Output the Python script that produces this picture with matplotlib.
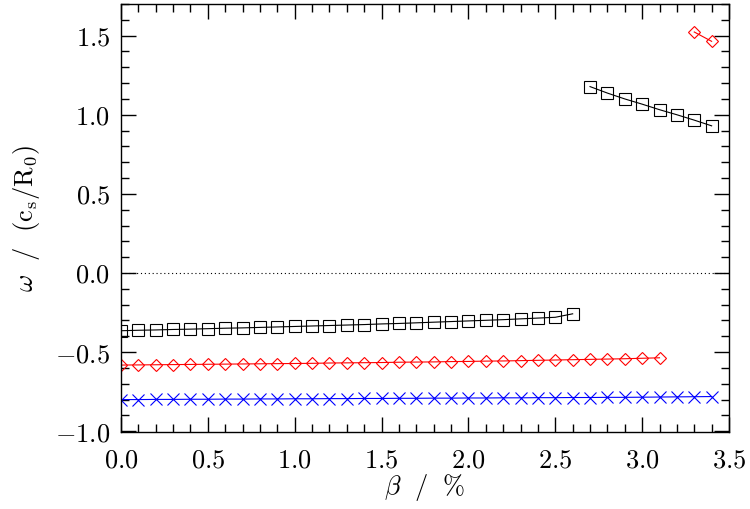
import numpy as np
import matplotlib
matplotlib.use("Agg")
import matplotlib.pyplot as plt
from matplotlib.ticker import MultipleLocator

plt.rcParams["mathtext.fontset"] = "cm"

# ---- data ----
beta_black_low = [round(0.1 * i, 1) for i in range(27)]  # 0.0 .. 2.6
omega_black_low = [-0.365, -0.362, -0.360, -0.357, -0.355, -0.352, -0.349, -0.347,
                   -0.344, -0.341, -0.338, -0.335, -0.332, -0.329, -0.326, -0.322,
                   -0.319, -0.315, -0.311, -0.307, -0.303, -0.299, -0.295, -0.290,
                   -0.285, -0.280, -0.258]

beta_black_high = [2.7, 2.8, 2.9, 3.0, 3.1, 3.2, 3.3, 3.4]
omega_black_high = [1.178, 1.137, 1.100, 1.067, 1.032, 1.000, 0.966, 0.930]

beta_red_low = [round(0.1 * i, 1) for i in range(32)]  # 0.0 .. 3.1
omega_red_low = [-0.582, -0.581, -0.580, -0.579, -0.578, -0.577, -0.576, -0.575,
                 -0.574, -0.573, -0.572, -0.571, -0.569, -0.568, -0.567, -0.566,
                 -0.564, -0.563, -0.562, -0.560, -0.559, -0.557, -0.556, -0.554,
                 -0.552, -0.550, -0.548, -0.546, -0.544, -0.542, -0.539, -0.536]

beta_red_high = [3.3, 3.4]
omega_red_high = [1.523, 1.464]

beta_blue = [round(0.1 * i, 1) for i in range(35)]  # 0.0 .. 3.4
omega_blue = [-0.800, -0.800, -0.799, -0.799, -0.798, -0.798, -0.797, -0.797,
              -0.796, -0.796, -0.795, -0.795, -0.794, -0.794, -0.793, -0.793,
              -0.792, -0.792, -0.791, -0.791, -0.790, -0.790, -0.789, -0.789,
              -0.788, -0.788, -0.787, -0.787, -0.786, -0.786, -0.785, -0.784,
              -0.783, -0.782, -0.781]

xticks = [0.0, 0.5, 1.0, 1.5, 2.0, 2.5, 3.0, 3.5]
yticks = [-1.0, -0.5, 0.0, 0.5, 1.0, 1.5]

# ---- figure ----
fig = plt.figure(figsize=(7.5, 5.09), dpi=100)
ax = fig.add_axes([121 / 750, 1 - 432 / 509, (729 - 121) / 750, (432 - 4) / 509])

ax.axhline(0.0, color="black", lw=0.8, ls=(0, (1, 2.5)))

lw = 0.8
ax.plot(beta_black_low, omega_black_low, color="black", lw=lw, marker="s",
        ms=8.5, mfc="none", mec="black", mew=lw)
ax.plot(beta_black_high, omega_black_high, color="black", lw=lw, marker="s",
        ms=8.5, mfc="none", mec="black", mew=lw)
ax.plot(beta_red_low, omega_red_low, color="red", lw=lw, marker="D",
        ms=6.5, mfc="none", mec="red", mew=lw)
ax.plot(beta_red_high, omega_red_high, color="red", lw=lw, marker="D",
        ms=6.5, mfc="none", mec="red", mew=lw)
ax.plot(beta_blue, omega_blue, color="blue", lw=lw, marker="x",
        ms=8, mec="blue", mew=lw)

ax.set_xlim(0.0, 3.5)
ax.set_ylim(-1.005, 1.70)
ax.set_xticks(xticks)
ax.set_yticks(yticks)
ax.xaxis.set_minor_locator(MultipleLocator(0.1))
ax.yaxis.set_minor_locator(MultipleLocator(0.1))
ax.tick_params(which="both", direction="in", top=True, right=True, width=1.0)
ax.tick_params(which="major", length=11)
ax.tick_params(which="minor", length=5.5)
ax.tick_params(axis="x", which="major", pad=11)
ax.tick_params(axis="y", which="major", pad=8)
for s in ax.spines.values():
    s.set_linewidth(1.0)

ax.set_xticklabels([f"${v:.1f}$" for v in xticks], fontsize=19)
ax.set_yticklabels([f"${v:.1f}$" for v in yticks], fontsize=19)

ax.set_xlabel(r"$\beta\ \ /\ \ \%$", fontsize=19, labelpad=-1)
ax.set_ylabel(r"$\omega\ \ /\ \ (\mathrm{c_s/R_0})$", fontsize=19, labelpad=9)

fig.savefig("out.png", dpi=100)
